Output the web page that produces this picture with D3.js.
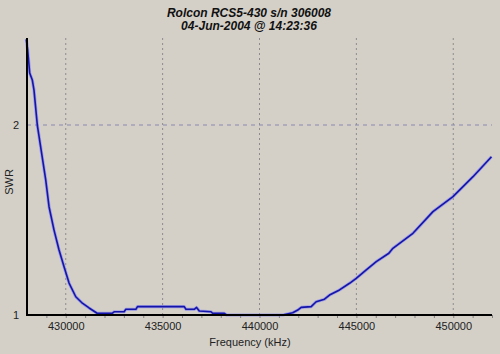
<!DOCTYPE html>
<html>
<head>
<meta charset="utf-8">
<script src="https://cdn.jsdelivr.net/npm/d3@7"></script>
<style>
  html, body { margin: 0; padding: 0; background: #d4d0c8; }
  svg { display: block; }
</style>
</head>
<body>
<div id="chart"></div>
<script>
// Sweep readings: frequency in kHz, SWR
const freqKHz = [
  427963, 428035, 428139, 428273, 428361, 428532, 428966, 429137, 429395, 429654,
  429912, 430171, 430517, 430858, 431205, 431618, 432394, 432497, 433014, 433102,
  433619, 433702, 436116, 436204, 436633, 436752, 436892, 437497, 437579, 438184,
  438300, 441198, 441715, 441974, 442150, 442667, 442925, 443354, 443613, 444130,
  444647, 444993, 445510, 446027, 446678, 446885, 447919, 448953, 449987, 451021,
  451973
];
const swr = [
  2.451, 2.395, 2.274, 2.237, 2.184, 2.000, 1.711, 1.570, 1.447, 1.342,
  1.254, 1.168, 1.096, 1.062, 1.037, 1.009, 1.009, 1.017, 1.017, 1.030,
  1.030, 1.044, 1.044, 1.030, 1.030, 1.040, 1.021, 1.017, 1.009, 1.009,
  1.000, 1.000, 1.012, 1.026, 1.040, 1.044, 1.070, 1.083, 1.105, 1.132,
  1.167, 1.193, 1.237, 1.281, 1.325, 1.351, 1.430, 1.544, 1.623, 1.728,
  1.833
];
const xTicks = [430000, 435000, 440000, 445000, 450000];
const yTicks = [1, 2];
const titleLines = ['Rolcon RCS5-430 s/n 306008', '04-Jun-2004 @ 14:23:36'];

const width = 500;
const height = 354;
const margin = { top: 38, right: 8, bottom: 39, left: 27 };

const x = d3.scaleLinear()
  .domain([428000, 452000])
  .range([margin.left, width - margin.right]);

const y = d3.scaleLinear()
  .domain([1, 2.458])
  .range([height - margin.bottom, margin.top]);

const data = freqKHz.map((f, i) => ({ f, v: swr[i] }));

const svg = d3.select('#chart')
  .append('svg')
  .attr('width', width)
  .attr('height', height)
  .style('font-family', "'Liberation Sans', Arial, sans-serif");

svg.append('rect')
  .attr('width', width).attr('height', height)
  .attr('fill', '#d4d0c8');

// Title
svg.append('g')
  .selectAll('text')
  .data(titleLines)
  .join('text')
  .attr('x', 249)
  .attr('y', (d, i) => 17 + i * 13)
  .attr('text-anchor', 'middle')
  .attr('font-size', '12px')
  .attr('font-style', 'italic')
  .attr('font-weight', 'bold')
  .attr('fill', '#111')
  .text(d => d);

// Vertical gridlines
svg.append('g')
  .selectAll('line')
  .data(xTicks)
  .join('line')
  .attr('x1', d => x(d)).attr('x2', d => x(d))
  .attr('y1', margin.top).attr('y2', height - margin.bottom)
  .attr('stroke', '#8c8c8c')
  .attr('stroke-dasharray', '2 3');

// Horizontal gridline at SWR 2
svg.append('g')
  .selectAll('line')
  .data(yTicks.filter(d => d > 1))
  .join('line')
  .attr('x1', margin.left).attr('x2', width - margin.right)
  .attr('y1', d => y(d)).attr('y2', d => y(d))
  .attr('stroke', '#8a88b0')
  .attr('stroke-dasharray', '4 4');

// Minor ticks on x axis
svg.append('g')
  .attr('transform', `translate(0,${height - margin.bottom})`)
  .call(d3.axisBottom(x).tickValues(d3.range(429000, 452001, 1000)).tickSize(3).tickFormat(''))
  .call(g => g.select('.domain').remove())
  .call(g => g.selectAll('.tick line').attr('stroke', '#808080'));

// X axis labels
svg.append('g')
  .attr('transform', `translate(0,${height - margin.bottom})`)
  .call(d3.axisBottom(x).tickValues(xTicks).tickSize(0).tickFormat(d3.format('d')))
  .call(g => g.select('.domain').remove())
  .call(g => g.selectAll('.tick text')
    .attr('dy', '1.05em')
    .attr('fill', '#222')
    .attr('font-size', '11px'));

// Y axis labels
svg.append('g')
  .attr('transform', `translate(${margin.left},0)`)
  .call(d3.axisLeft(y).tickValues(yTicks).tickSize(0).tickFormat(d3.format('d')))
  .call(g => g.select('.domain').remove())
  .call(g => g.selectAll('.tick text')
    .attr('dx', '-0.45em')
    .attr('fill', '#222')
    .attr('font-size', '11px'));

// Curve: light halo then dark line
const line = d3.line().x(d => x(d.f)).y(d => y(d.v));

svg.append('path')
  .datum(data)
  .attr('fill', 'none')
  .attr('stroke', '#8a8af0')
  .attr('stroke-width', 3.2)
  .attr('stroke-linejoin', 'round')
  .attr('opacity', 0.7)
  .attr('d', line);

svg.append('path')
  .datum(data)
  .attr('fill', 'none')
  .attr('stroke', '#1414a8')
  .attr('stroke-width', 1.6)
  .attr('stroke-linejoin', 'round')
  .attr('d', line);

// Axis lines
svg.append('line')
  .attr('x1', margin.left).attr('x2', margin.left)
  .attr('y1', margin.top).attr('y2', height - margin.bottom + 1)
  .attr('stroke', '#000').attr('stroke-width', 2);

svg.append('line')
  .attr('x1', margin.left - 1).attr('x2', width - margin.right)
  .attr('y1', height - margin.bottom).attr('y2', height - margin.bottom)
  .attr('stroke', '#000').attr('stroke-width', 2);

// Axis titles
svg.append('text')
  .attr('x', 250)
  .attr('y', 346)
  .attr('text-anchor', 'middle')
  .attr('font-size', '11px')
  .attr('fill', '#222')
  .text('Frequency (kHz)');

svg.append('text')
  .attr('transform', 'translate(13,182) rotate(-90)')
  .attr('text-anchor', 'middle')
  .attr('font-size', '11px')
  .attr('fill', '#222')
  .text('SWR');
</script>
</body>
</html>
